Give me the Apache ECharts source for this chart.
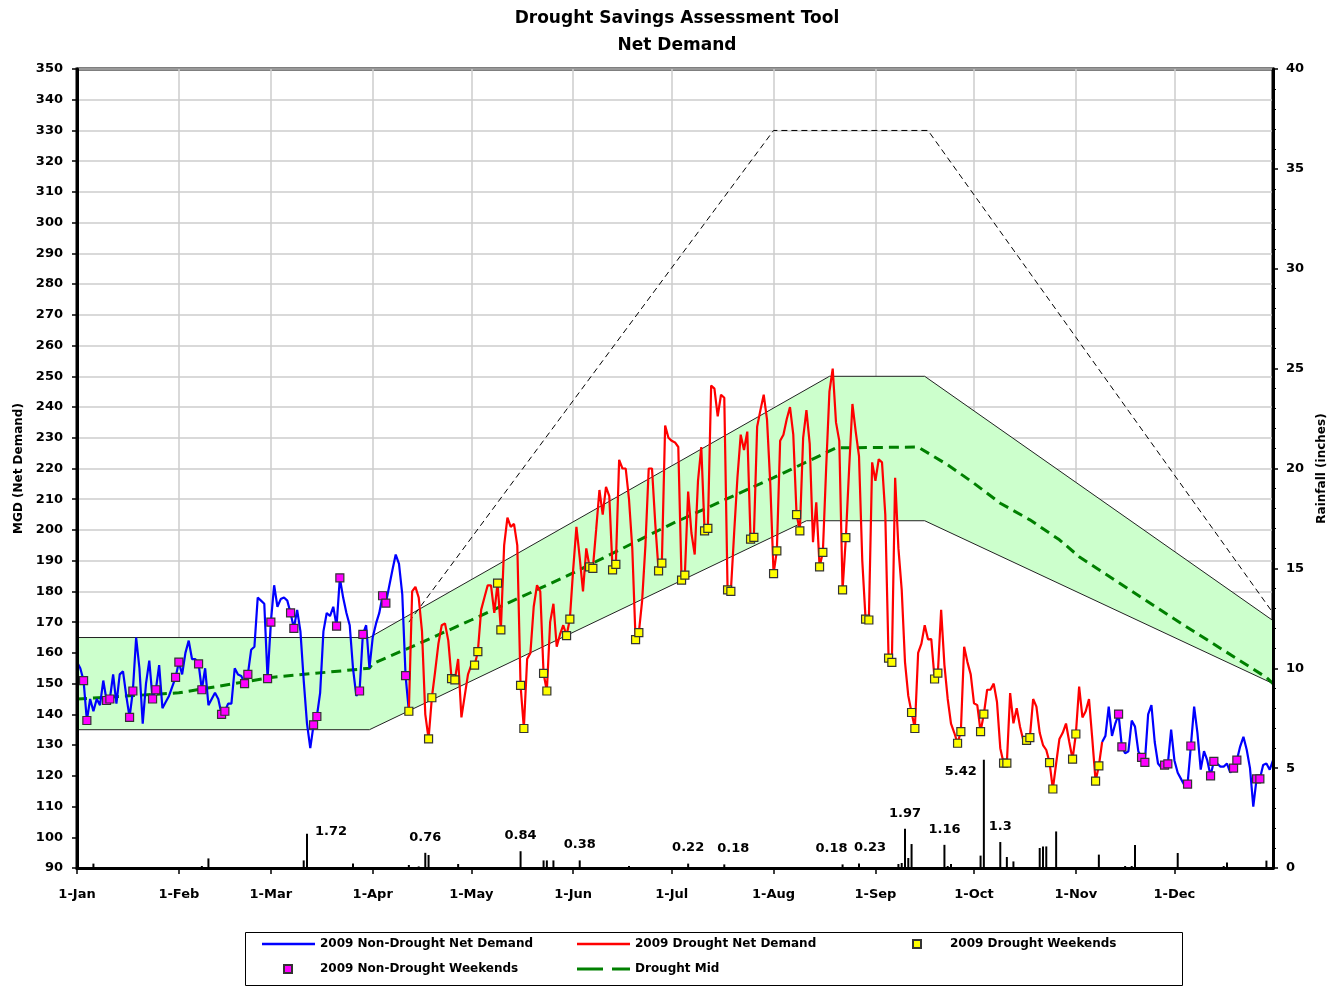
<!DOCTYPE html>
<html>
<head>
<meta charset="utf-8">
<title>Drought Savings Assessment Tool</title>
<script src="https://cdn.jsdelivr.net/npm/echarts@6/dist/echarts.min.js"></script>
<style>
  html, body { margin: 0; padding: 0; background: #fff; }
  #chart { width: 1333px; height: 987px; }
</style>
</head>
<body>
<div id="chart"></div>
<script>
// daily net demand (MGD), day 0 = 1-Jan-2009 ... day 364 = 31-Dec-2009
var demand = [
  157,155,151,138,145,141,145,143,151,144.5,
  145,153,143.5,153,154,146,139,147.6,165,155,
  137,150,157.5,145,148,156,142,144,146,149,
  152,157,153,160,164,158,158,156.4,148,155,
  143,145,147,145,140,141,143.5,143.5,155,153,
  152.5,150,153,161,162,178,177,176,151.6,170,
  182,175,177.5,178,177,173,168,174,167,151,
  137,129,136.6,139.3,147,167,173,172,175,168.7,
  184.4,178,173,169,155,146,147.6,166,169,155,
  165,169.5,173,178.6,176.2,181.6,187,192,189,179,
  152.6,141,180,181.5,178,167,140,132,145.4,154,
  163,169,169.6,164,151.6,151.2,158,139,146,153,
  156,156,160.4,174,178,182,182,173,182.7,167.5,
  195,204,201,202,195,149.4,135.4,158,160,175,
  182,180,153.3,147.6,170,176,162,166,169,165.6,
  171,187,201,191,180,194,188,187.5,200,213,
  205,214,211,187,188.8,222.8,220,220,210,194,
  164.3,166.6,177,195,220,220,202,186.7,189.2,234,
  230,229,228.5,227,183.7,185.3,212.5,199,192,216,
  227,199.7,200.5,247,246,237,244,243,180.5,180,
  199,217,231,226,232,197,197.6,233.6,239,244,
  236,215,185.8,193.2,229,231,236,240,231,205,
  199.7,230,239,228,196,209,188,192.7,220,245,
  252.5,235,229,180.5,197.5,220,241,232,224,190,
  171,170.7,222,216,223,222,205,158.3,156.9,217,
  194,180.5,157,146,140.6,135.4,160,163,169,164.4,
  164.5,151.5,153.4,174,156,145,137,134,130.6,134.4,
  162,157,153,143.6,143,134.4,140.1,148,148,150,
  144,129,124.1,124.1,146.9,137.1,142,136,131.6,131.5,
  132.4,145,142.5,134,130,128.4,124.3,115.7,124,132,
  134,137,131,125.4,133.6,149,139,141,145,132,
  118.3,123.2,131,133,142.5,133,137,140.1,129.4,127.3,
  128,138,136,128,126,124.4,140,143,131,124,
  122.7,123.5,123.9,135,125,121,119,117,117.3,129.7,
  142.5,134,122,128,125,120,124.7,124,123,123,
  124,121,122.5,125.1,129.5,132.7,128.5,122.5,110,119,
  119,123.5,124,122,125
];
var droughtStart = 101;   // 12-Apr
var droughtEnd = 312;     // 9-Nov

// drought band edges (day index, MGD)
var bandLowerDays = [0, 89, 222, 258, 364];
var bandLowerValues = [135, 135, 203, 203, 150];
var bandUpperDays = [0, 89, 229, 258, 364];
var bandUpperValues = [165, 165, 250, 250, 170.5];

// drought mid line
var midDays = [0, 31, 59, 89, 90, 104, 120, 151, 181, 212, 231, 256, 260, 265, 273, 281, 290, 299, 305, 334, 362, 364];
var midValues = [145, 147, 152, 155, 156.5, 163, 170.7, 186, 202, 217, 226.7, 227, 224.4, 221.2, 215.2, 208.7, 203.3, 196.8, 191.3, 171, 152, 150];

// upper dash-dot line
var maxDays = [101, 212, 259, 364];
var maxValues = [170, 330, 330, 173];

// rainfall (inches)
var rainDays = [5, 25, 38, 40, 47, 69, 70, 84, 89, 101, 104, 106, 107, 115, 116, 135, 142, 143, 145, 153, 168,
  186, 197, 210, 223, 233, 238, 246, 250, 251, 252, 253, 254, 264, 265, 266, 275, 276, 281, 283, 285,
  293, 294, 295, 298, 311, 319, 321, 322, 335, 344, 349, 350, 356, 362];
var rainInches = [0.22, 0.05, 0.1, 0.48, 0.05, 0.38, 1.72, 0.23, 0.05, 0.15, 0.08, 0.76, 0.65, 0.05, 0.2, 0.84, 0.38, 0.38, 0.38, 0.38, 0.1,
  0.22, 0.18, 0.05, 0.05, 0.18, 0.23, 0.05, 0.2, 0.25, 1.97, 0.5, 1.2, 1.16, 0.1, 0.2, 0.62, 5.42, 1.3, 0.55, 0.33,
  1.0, 1.08, 1.08, 1.83, 0.67, 0.1, 0.1, 1.15, 0.75, 0.05, 0.1, 0.28, 0.05, 0.37];
var rainLabelDays = [70, 106, 135, 153, 186, 197, 233, 238, 252, 264, 276, 281];

var monthNames = ['Jan','Feb','Mar','Apr','May','Jun','Jul','Aug','Sep','Oct','Nov','Dec'];

// categories: every day of 2009
var days = [];
for (var i = 0; i < 365; i++) {
    days.push(new Date(Date.UTC(2009, 0, 1 + i)).toISOString().slice(0, 10));
}
var isMonthStart = function (index, value) {
    return days[index].slice(8) === '01';
};

var pairs = function (xs, ys) {
    return xs.map(function (x, k) { return [x, ys[k]]; });
};

var nonDrought = demand.map(function (v, i) { return (i <= droughtStart || i >= droughtEnd) ? v : null; });
var drought = demand.map(function (v, i) { return (i >= droughtStart && i <= droughtEnd) ? v : null; });

var nonDroughtWeekends = [], droughtWeekends = [];
demand.forEach(function (v, i) {
    var dow = new Date(Date.UTC(2009, 0, 1 + i)).getUTCDay();
    if (dow !== 0 && dow !== 6) return;
    if (i >= droughtStart && i < droughtEnd) droughtWeekends.push([i, v]);
    else nonDroughtWeekends.push([i, v]);
});

var font = function (size, extra) {
    var o = { fontFamily: 'DejaVu Sans', fontWeight: 'bold', color: '#000', fontSize: size };
    for (var k in extra) o[k] = extra[k];
    return o;
};

// label placement tweaks for a few rainfall labels
var rainLabelStyle = {
    70: { position: [9, -2], align: 'left', verticalAlign: 'middle' },
    276: { position: [-6, 12], align: 'right', verticalAlign: 'middle' },
    197: { offset: [9, 0] },
    233: { offset: [-11, 0] },
    238: { offset: [11, 0] }
};
var rainData = rainDays.map(function (d, k) {
    var item = { value: [d, rainInches[k]] };
    if (rainLabelDays.indexOf(d) >= 0) {
        var lab = { show: true, position: 'top', distance: 9, formatter: String(rainInches[k]) };
        var extra = rainLabelStyle[d] || {};
        for (var key in extra) lab[key] = extra[key];
        item.label = lab;
    }
    return item;
});

var chart = echarts.init(document.getElementById('chart'));

var option = {
    animation: false,
    backgroundColor: '#fff',
    title: {
        text: 'Drought Savings Assessment Tool\nNet Demand',
        left: 672,
        top: 0,
        textAlign: 'center',
        textStyle: font(17, { lineHeight: 27 })
    },
    grid: {
        left: 77, right: 60, top: 69, bottom: 119,
        containLabel: false, outerBoundsMode: 'none',
        show: true, borderColor: '#000', borderWidth: 3
    },
    legend: [
        { data: ['2009 Non-Drought Net Demand'], left: 262, top: 938, padding: 0, icon: 'rect', itemWidth: 53, itemHeight: 2.5, textStyle: font(12) },
        { data: ['2009 Drought Net Demand'], left: 577, top: 938, padding: 0, icon: 'rect', itemWidth: 53, itemHeight: 2.5, textStyle: font(12) },
        { data: ['2009 Drought Weekends'], left: 912, top: 938, padding: 0, icon: 'rect', itemWidth: 8, itemHeight: 8, textStyle: font(12, { padding: [0, 0, 0, 24] }) },
        { data: ['2009 Non-Drought Weekends'], left: 283, top: 963, padding: 0, icon: 'rect', itemWidth: 8, itemHeight: 8, textStyle: font(12, { padding: [0, 0, 0, 23] }) },
        { data: ['Drought Mid'], left: 577, top: 963, padding: 0, icon: 'path://M0,0h26v3h-26z M35,0h18v3h-18z', itemWidth: 53, itemHeight: 3, textStyle: font(12) }
    ],
    graphic: [{
        type: 'rect',
        shape: { x: 245.5, y: 932.5, width: 937, height: 53 },
        style: { fill: 'none', stroke: '#000', lineWidth: 1 },
        silent: true
    }],
    xAxis: [{
        type: 'category',
        data: days,
        boundaryGap: false,
        z: 5,
        axisLine: { lineStyle: { color: '#000', width: 3 } },
        axisTick: { interval: isMonthStart, length: 6, lineStyle: { color: '#000', width: 1.5 } },
        axisLabel: {
            interval: isMonthStart,
            margin: 20,
            formatter: function (v) { return Number(v.slice(8)) + '-' + monthNames[Number(v.slice(5, 7)) - 1]; },
            textStyle: font(13)
        },
        splitLine: { show: false }
    }, {
        type: 'category',
        data: days,
        boundaryGap: false,
        z: 0,
        axisLine: { show: false },
        axisTick: { show: false },
        axisLabel: { show: false },
        splitLine: { show: true, interval: isMonthStart, lineStyle: { color: '#cccccc', width: 1.5 } }
    }],
    yAxis: [{
        type: 'value',
        min: 90, max: 350, interval: 10,
        z: 5,
        name: 'MGD (Net Demand)',
        nameLocation: 'middle',
        nameRotate: 90,
        nameGap: 49,
        nameTextStyle: font(12),
        axisLine: { show: true, lineStyle: { color: '#000', width: 3 } },
        axisTick: { show: true, length: 5, lineStyle: { color: '#000', width: 1.5 } },
        axisLabel: { margin: 14, textStyle: font(13) },
        splitLine: { show: false }
    }, {
        type: 'value',
        min: 0, max: 40, interval: 5,
        position: 'right',
        z: 5,
        name: 'Rainfall (inches)',
        nameLocation: 'middle',
        nameRotate: 90,
        nameGap: 43,
        nameTextStyle: font(12),
        axisLine: { show: true, lineStyle: { color: '#000', width: 3 } },
        axisTick: { show: true, length: 5, lineStyle: { color: '#000', width: 1.5 } },
        minorTick: { show: true, splitNumber: 5, length: 3, lineStyle: { color: '#000', width: 1 } },
        axisLabel: { margin: 13, textStyle: font(13) },
        splitLine: { show: false }
    }, {
        type: 'value',
        min: 90, max: 350, interval: 10,
        z: 0,
        axisLine: { show: false },
        axisTick: { show: false },
        axisLabel: { show: false },
        splitLine: { show: true, lineStyle: { color: '#cccccc', width: 1.5 } }
    }],
    series: [
        {
            name: 'Band Upper',
            type: 'line',
            z: 1,
            data: pairs(bandUpperDays, bandUpperValues),
            symbol: 'none',
            silent: true,
            lineStyle: { color: '#222', width: 1 },
            areaStyle: { color: '#ccffcc', opacity: 1, origin: 'start' }
        },
        {
            name: 'Band Lower',
            type: 'line',
            z: 1,
            data: pairs(bandLowerDays, bandLowerValues),
            symbol: 'none',
            silent: true,
            lineStyle: { color: '#222', width: 1 },
            areaStyle: { color: '#ffffff', opacity: 1, origin: 'start' }
        },
        {
            name: 'Drought Max',
            type: 'line',
            z: 2,
            data: pairs(maxDays, maxValues),
            symbol: 'none',
            silent: true,
            lineStyle: { color: '#000', width: 1, type: [6, 4] }
        },
        {
            name: 'Drought Mid',
            type: 'line',
            z: 2,
            data: pairs(midDays, midValues),
            symbol: 'none',
            color: '#008000',
            lineStyle: { color: '#008000', width: 3, type: [10, 6] }
        },
        {
            name: '2009 Non-Drought Net Demand',
            type: 'line',
            z: 3,
            data: nonDrought,
            symbol: 'none',
            color: '#0000ff',
            lineStyle: { color: '#0000ff', width: 2.2 }
        },
        {
            name: '2009 Drought Net Demand',
            type: 'line',
            z: 3,
            data: drought,
            symbol: 'none',
            color: '#ff0000',
            lineStyle: { color: '#ff0000', width: 2.2 }
        },
        {
            name: '2009 Non-Drought Weekends',
            type: 'scatter',
            z: 4,
            data: nonDroughtWeekends,
            symbol: 'rect',
            symbolSize: 8,
            itemStyle: { color: '#ff00ff', borderColor: '#333', borderWidth: 1.2, opacity: 1 }
        },
        {
            name: '2009 Drought Weekends',
            type: 'scatter',
            z: 4,
            data: droughtWeekends,
            symbol: 'rect',
            symbolSize: 8,
            itemStyle: { color: '#ffff00', borderColor: '#333', borderWidth: 1.2, opacity: 1 }
        },
        {
            name: 'Rainfall',
            type: 'bar',
            z: 4,
            yAxisIndex: 1,
            data: rainData,
            barWidth: 2,
            itemStyle: { color: '#000' },
            label: { textStyle: font(13) }
        }
    ]
};

chart.setOption(option);
</script>
</body>
</html>
